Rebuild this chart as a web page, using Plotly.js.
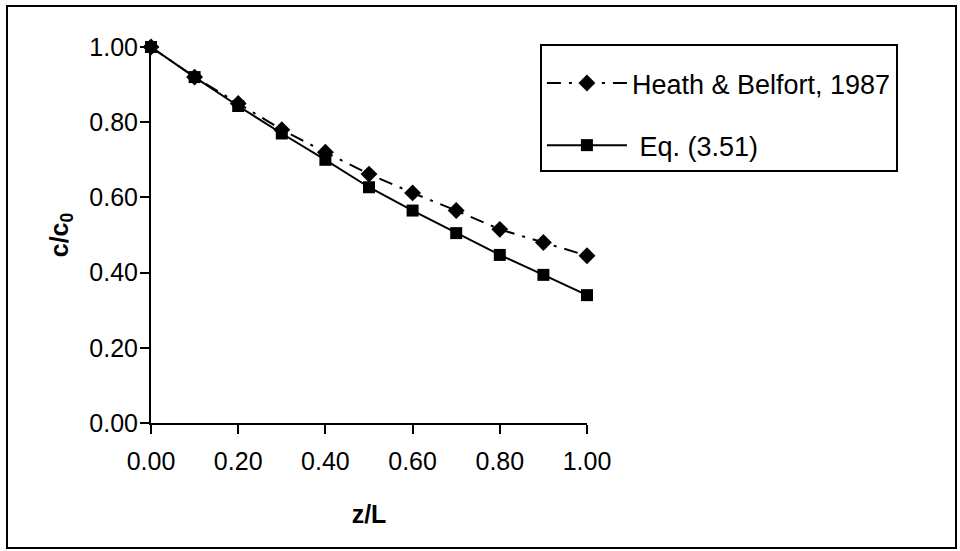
<!DOCTYPE html>
<html>
<head>
<meta charset="utf-8">
<script src="https://cdn.plot.ly/plotly-3.0.1.min.js"></script>
<style>
  html, body { margin: 0; padding: 0; background: #fff; }
  #chart { width: 960px; height: 551px; position: absolute; left: 0; top: 0; }
  #frame { position: absolute; left: 6px; top: 5px; width: 947px; height: 540px; border: 2px solid #000; pointer-events: none; }
</style>
</head>
<body>
<div id="chart"></div>
<div id="frame"></div>
<script>
// Data
const zL = [0.0, 0.1, 0.2, 0.3, 0.4, 0.5, 0.6, 0.7, 0.8, 0.9, 1.0];
const heathBelfort = [1.00, 0.92, 0.85, 0.78, 0.72, 0.662, 0.612, 0.565, 0.515, 0.48, 0.445];
const eq351 = [1.00, 0.92, 0.843, 0.77, 0.70, 0.627, 0.565, 0.505, 0.447, 0.394, 0.34];
const tickVals = [0, 0.2, 0.4, 0.6, 0.8, 1.0];
const tickText = ['0.00', '0.20', '0.40', '0.60', '0.80', '1.00'];
const seriesNames = ['Heath &amp; Belfort, 1987', ' Eq. (3.51)'];

const font = 'Liberation Sans, Arial, sans-serif';

const traces = [
  {
    x: zL, y: heathBelfort, name: seriesNames[0], mode: 'lines+markers',
    legendgroup: 'a',
    line: { color: '#000', width: 2, dash: '14px,8px,3px,8px' },
    marker: { symbol: 'diamond', size: 13, color: '#000' },
    cliponaxis: false
  },
  {
    x: zL, y: eq351, name: seriesNames[1], mode: 'lines+markers',
    legendgroup: 'b',
    line: { color: '#000', width: 2 },
    marker: { symbol: 'square', size: 12, color: '#000' },
    cliponaxis: false
  }
];

const layout = {
  width: 960, height: 551,
  margin: { l: 151, r: 373, t: 47, b: 128 },
  paper_bgcolor: '#fff', plot_bgcolor: '#fff',
  font: { family: font, color: '#000', size: 25 },
  showlegend: true,
  legend: {
    x: 0.892, y: 1.008, xanchor: 'left', yanchor: 'top',
    bordercolor: '#000', borderwidth: 2, bgcolor: '#fff',
    font: { family: font, size: 27, color: '#000' },
    title: { text: ' ', font: { family: font, size: 10, color: '#000' } },
    itemwidth: 80, traceorder: 'grouped', tracegroupgap: 24
  },
  xaxis: {
    range: [0, 1], tickvals: tickVals, ticktext: tickText,
    showline: true, linecolor: '#000', linewidth: 2,
    ticks: 'outside', ticklen: 9, tickwidth: 2, tickcolor: '#000',
    ticklabelstandoff: 6,
    showgrid: false, zeroline: false,
    tickfont: { family: font, size: 25, color: '#000' },
    title: { text: '<b>z/L</b>', font: { family: font, size: 25, color: '#000' }, standoff: 31 }
  },
  yaxis: {
    range: [0, 1], tickvals: tickVals, ticktext: tickText,
    showline: true, linecolor: '#000', linewidth: 2,
    ticks: 'outside', ticklen: 9, tickwidth: 2, tickcolor: '#000',
    ticklabelstandoff: -3,
    showgrid: false, zeroline: false,
    tickfont: { family: font, size: 25, color: '#000' },
    title: { text: '<b>c/c<sub>0</sub></b>', font: { family: font, size: 25, color: '#000' }, standoff: 14 }
  }
};

Plotly.newPlot('chart', traces, layout, { displayModeBar: false, staticPlot: true });
</script>
</body>
</html>
